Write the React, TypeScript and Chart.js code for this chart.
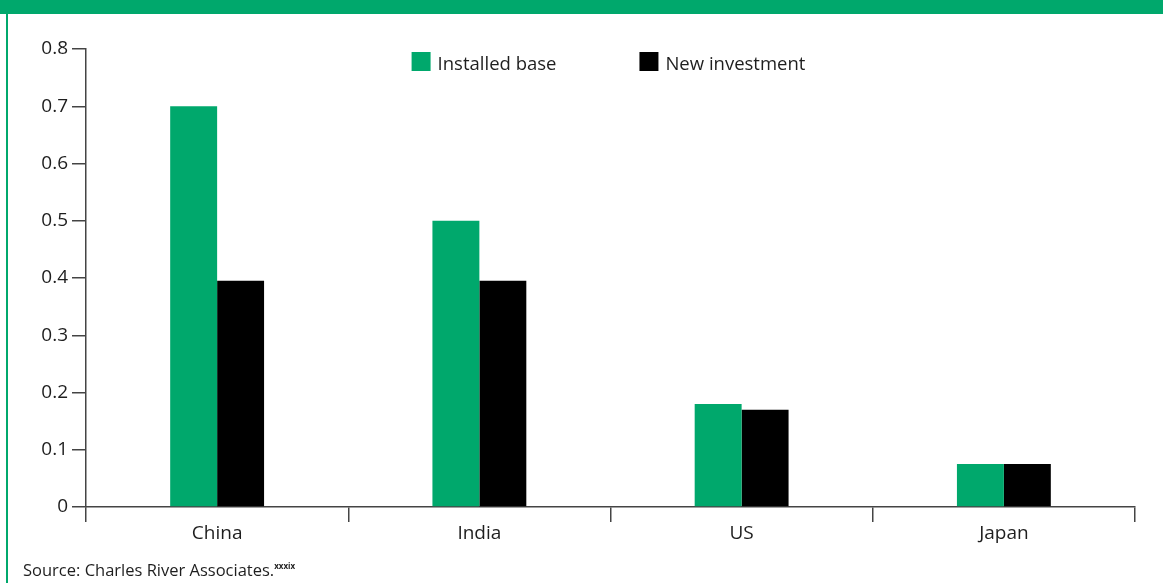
import React, { useEffect, useRef } from "react";
import { Chart, registerables } from "chart.js";

Chart.register(...registerables);

const categories = ["China", "India", "US", "Japan"];
const installedBase = [0.7, 0.5, 0.18, 0.075];
const newInvestment = [0.395, 0.395, 0.17, 0.075];
const seriesLabels = ["Installed base", "New investment"];
const yTicks = [0, 0.1, 0.2, 0.3, 0.4, 0.5, 0.6, 0.7, 0.8];

const GREEN = "#00A86C";
const AXIS = "#444444";
const TEXT = "#1e1e1e";
const FONT = "'Open Sans', sans-serif";

const legendPlugin = {
  id: "customLegend",
  afterDraw(chart: any) {
    const ctx = chart.ctx;
    const area = chart.chartArea;
    ctx.save();
    ctx.font = `18.5px ${FONT}`;
    ctx.textBaseline = "alphabetic";
    const box = 19;
    const gapText = 7;
    const gapItems = 83;
    const colors = chart.data.datasets.map((d: any) => d.backgroundColor);
    const labels = chart.data.datasets.map((d: any) => d.label);
    const widths = labels.map((l: string) => box + gapText + ctx.measureText(l).width);
    const total = widths.reduce((a: number, b: number) => a + b, 0) + gapItems * (labels.length - 1);
    let x = (area.left + area.right) / 2 - 2 - total / 2;
    const top = area.top + 3;
    labels.forEach((l: string, i: number) => {
      ctx.fillStyle = colors[i];
      ctx.fillRect(x, top, box, box);
      ctx.fillStyle = TEXT;
      ctx.fillText(l, x + box + gapText, top + 18);
      x += widths[i] + gapItems;
    });
    ctx.restore();
  },
};

export default function App() {
  const ref = useRef<HTMLCanvasElement>(null);

  useEffect(() => {
    document.body.style.margin = "0";
    const chart = new Chart(ref.current as HTMLCanvasElement, {
      type: "bar",
      data: {
        labels: categories,
        datasets: [
          { label: seriesLabels[0], data: installedBase, backgroundColor: GREEN, barPercentage: 1, categoryPercentage: 0.358 },
          { label: seriesLabels[1], data: newInvestment, backgroundColor: "#000000", barPercentage: 1, categoryPercentage: 0.358 },
        ],
      },
      options: {
        animation: false,
        responsive: false,
        devicePixelRatio: 1,
        layout: { padding: { top: 49, right: 28, left: 0, bottom: 0 } },
        plugins: { legend: { display: false }, tooltip: { enabled: false }, title: { display: false } },
        scales: {
          x: {
            afterFit: (s: any) => { s.height = 76; },
            grid: { offset: true, drawOnChartArea: false, drawTicks: true, tickLength: 15, color: AXIS, lineWidth: 1.5 },
            border: { display: true, color: AXIS, width: 1.5 },
            ticks: { color: TEXT, font: { family: FONT, size: 19 }, padding: 0 },
          },
          y: {
            min: 0,
            max: 0.8,
            afterFit: (s: any) => { s.width = 86; },
            afterBuildTicks: (s: any) => { s.ticks = yTicks.map((v) => ({ value: v })); },
            grid: { drawOnChartArea: false, drawTicks: true, tickLength: 14, color: AXIS, lineWidth: 1.5 },
            border: { display: true, color: AXIS, width: 1.5 },
            ticks: {
              color: TEXT,
              font: { family: FONT, size: 19 },
              padding: 4,
              callback: (v: any) => (Number(v) === 0 ? "0" : Number(v).toFixed(1)),
            },
          },
        },
      },
      plugins: [legendPlugin],
    });
    return () => chart.destroy();
  }, []);

  return (
    <div style={{ position: "absolute", left: 0, top: 0, width: 1163, height: 583, background: "#fff", overflow: "hidden" }}>
      <div style={{ position: "absolute", left: 0, top: 0, width: 1163, height: 14, background: GREEN }} />
      <div style={{ position: "absolute", left: 6, top: 14, width: 1.5, height: 569, background: GREEN }} />
      <canvas ref={ref} width={1163} height={583} style={{ position: "absolute", left: 0, top: 0 }} />
      <div
        style={{
          position: "absolute",
          left: 23,
          top: 558,
          fontFamily: FONT,
          fontSize: 16.5,
          color: TEXT,
          whiteSpace: "nowrap",
        }}
      >
        Source: Charles River Associates.<sup style={{ fontSize: 8, fontWeight: 700, verticalAlign: "top", position: "relative", top: 2 }}>xxxix</sup>
      </div>
    </div>
  );
}
